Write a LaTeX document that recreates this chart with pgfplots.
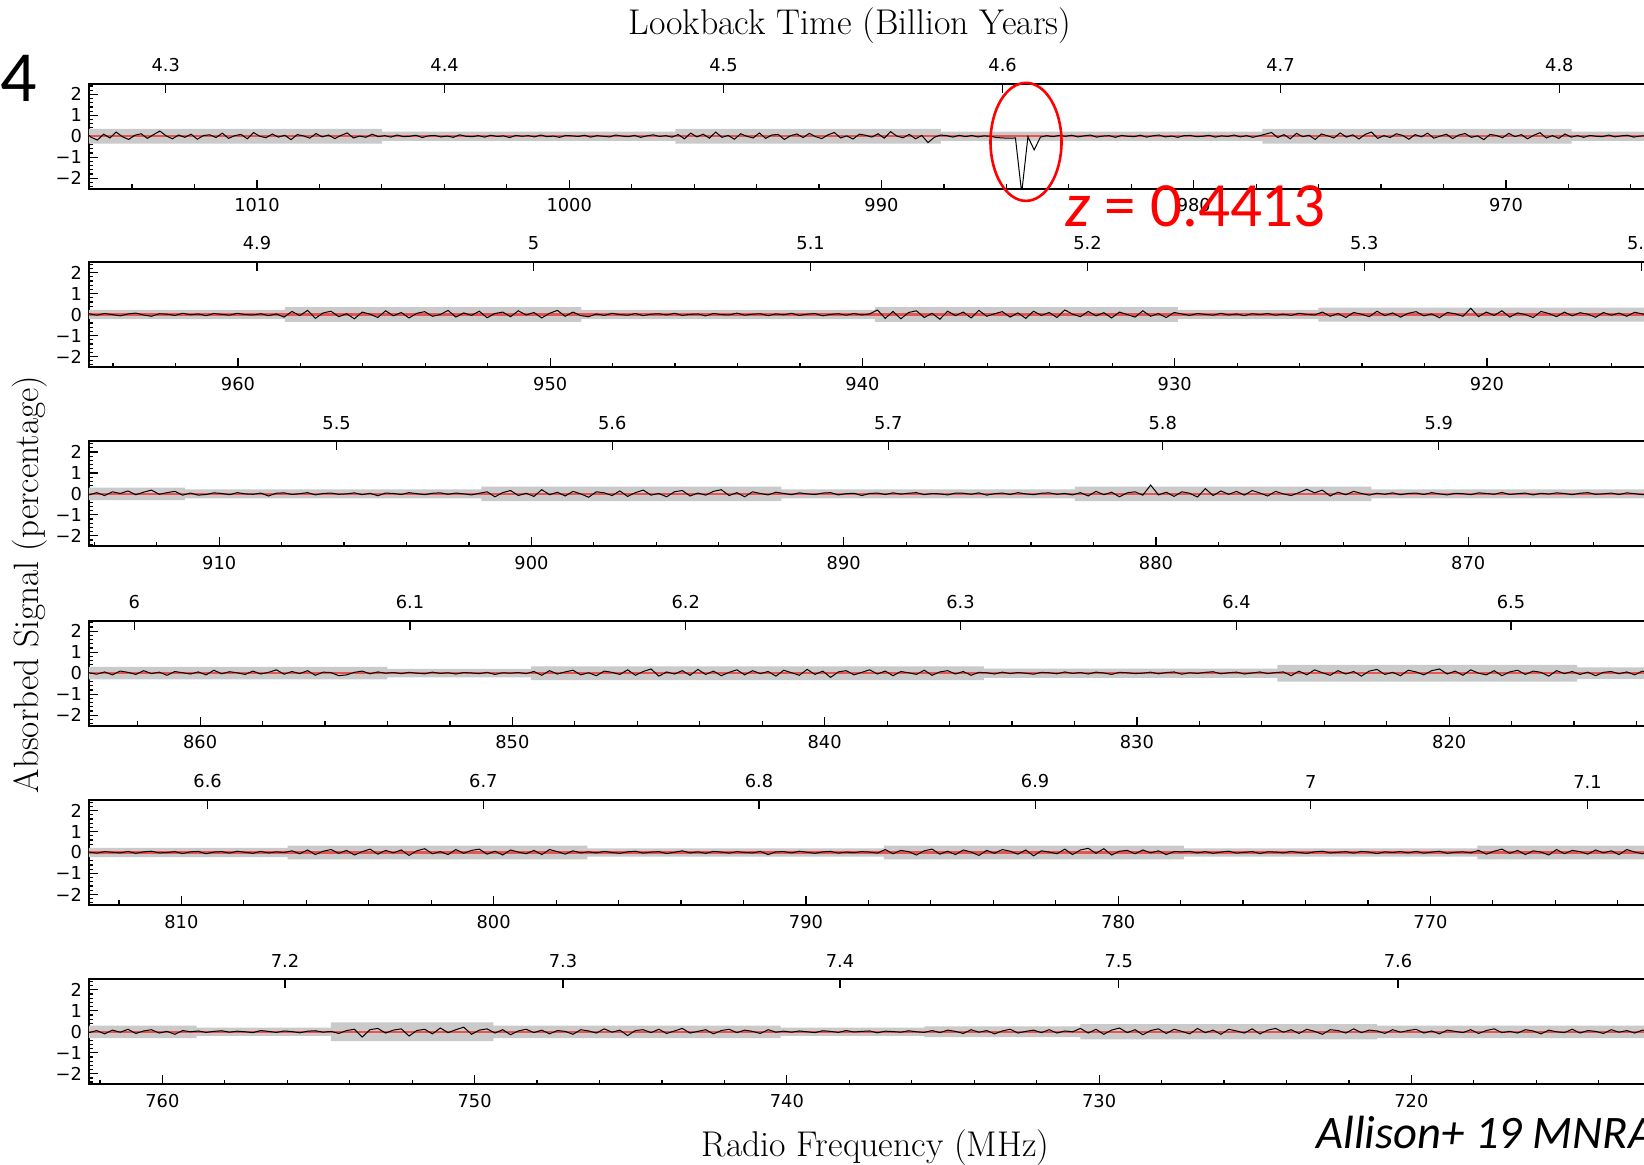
\documentclass[border=0pt]{standalone}
\usepackage{pgfplots}
\pgfplotsset{compat=1.18}
\usepackage{pgfplotstable}
\usepackage{fontspec}
\newfontfamily\dejavu{DejaVu Sans}
\newfontfamily\carlito{Carlito}
\definecolor{bandgray}{RGB}{202,202,202}
\definecolor{zerored}{RGB}{236,80,80}

% Panel 1: 1015.51 MHz downward, 0.2 MHz per channel
\pgfplotstableread[header=false]{
0.22
-0.05
-0.18
0.1
-0.08
0.2
-0.02
-0.15
0.05
0.12
-0.1
0.08
0.25
0.02
-0.12
0.06
-0.05
0.1
-0.14
0.04
0.07
-0.06
0.15
-0.1
0.03
0.09
-0.12
0.18
0.0
-0.07
0.11
-0.04
0.05
-0.16
0.08
0.02
-0.09
0.13
-0.03
0.06
-0.11
0.04
0.16
-0.08
0.01
-0.05
0.1
-0.02
0.03
-0.04
0.06
-0.02
0.0
0.05
-0.06
0.02
0.04
-0.03
0.01
-0.05
0.07
0.0
-0.02
0.03
-0.04
0.05
-0.01
0.02
-0.06
0.04
0.0
0.03
-0.03
0.06
-0.02
0.01
-0.05
0.04
0.02
-0.01
0.05
-0.04
0.03
0.0
-0.03
0.06
0.01
-0.02
0.04
-0.05
0.02
0.07
-0.01
0.03
-0.04
0.08
-0.12
0.15
-0.03
0.1
-0.09
0.2
-0.05
0.04
-0.14
0.12
0.0
-0.08
0.16
-0.1
0.06
0.09
-0.15
0.03
0.11
-0.06
0.14
-0.02
-0.11
0.07
0.18
-0.08
0.02
-0.13
0.1
0.05
-0.04
0.12
-0.09
0.22
0.01
-0.07
0.09
-0.12
0.04
-0.3
-0.05
0.06
0.03
-0.04
0.05
-0.02
0.04
-0.03
0.02
0.0
-0.06
-0.08
-0.09
-0.08
-2.7
-0.02
-0.65
-0.04
0.03
-0.02
0.04
0.0
0.05
-0.03
0.02
0.06
-0.04
0.01
0.03
-0.05
0.04
0.0
-0.02
0.05
-0.04
0.02
0.06
-0.03
0.01
-0.05
0.03
0.04
-0.02
0.0
0.05
-0.04
0.02
-0.01
0.06
-0.03
0.03
-0.05
0.02
0.1
0.18
-0.06
0.08
-0.12
0.14
-0.02
0.05
-0.15
0.11
0.02
-0.08
0.16
-0.04
0.07
-0.13
0.09
0.2
-0.1
0.03
-0.06
0.12
0.04
-0.14
0.08
-0.03
0.15
-0.09
0.01
0.1
-0.11
0.06
0.13
-0.05
0.02
-0.16
0.09
0.04
-0.07
0.14
-0.02
0.08
-0.12
0.05
0.17
-0.08
0.03
-0.1
0.11
-0.04
0.03
-0.05
0.04
0.0
-0.02
0.06
-0.03
0.02
0.05
-0.04
0.01
0.03
-0.02
0.04
0.0
}\tabA

% Panel 2: 964.77 MHz downward, 0.25 MHz per channel
\pgfplotstableread[header=false]{
0.04
-0.03
0.05
0.0
-0.06
0.03
0.07
-0.02
-0.08
0.04
0.02
-0.04
0.06
-0.01
0.03
-0.05
0.05
0.01
-0.03
0.06
0.0
-0.02
0.04
-0.05
0.03
-0.12
0.15
-0.05
0.2
-0.18
0.08
0.16
-0.1
0.04
-0.2
0.12
0.02
-0.14
0.18
-0.06
0.1
-0.16
0.06
0.14
-0.08
0.0
0.2
-0.12
0.08
-0.04
0.16
-0.15
0.05
0.12
-0.1
0.18
-0.02
0.1
-0.16
0.06
0.2
-0.08
0.12
-0.05
-0.1
0.03
-0.04
0.06
0.0
-0.03
0.05
-0.05
0.02
0.04
-0.02
0.06
-0.04
0.01
0.03
-0.06
0.05
0.0
-0.02
0.07
-0.03
0.02
0.04
-0.05
0.03
-0.01
0.06
-0.04
0.02
0.05
-0.06
0.01
0.04
-0.03
0.05
-0.02
0.03
0.22
-0.18
0.15
-0.2
0.1
0.18
-0.14
0.06
-0.22
0.16
-0.05
0.12
-0.16
0.2
-0.08
0.04
0.14
-0.12
0.08
-0.18
0.16
-0.04
0.1
-0.14
0.22
0.02
-0.1
0.15
-0.06
0.09
-0.16
0.12
0.0
-0.12
0.18
-0.08
0.05
-0.14
0.1
0.03
-0.04
0.05
0.01
-0.03
0.06
-0.02
0.03
-0.05
0.04
0.0
0.05
-0.03
0.02
-0.04
0.06
0.01
-0.02
0.12
-0.08
0.05
-0.14
0.1
0.02
-0.1
0.16
-0.05
0.08
-0.12
0.06
0.14
-0.06
0.03
-0.15
0.1
0.04
-0.08
0.3
-0.1
0.12
-0.04
0.18
-0.12
0.08
0.0
-0.14
0.15
0.05
-0.1
0.12
-0.06
0.09
0.02
-0.13
0.1
-0.03
0.07
-0.08
0.11
0.03
-0.06
0.08
-0.02
}\tabB

% Panel 3: 914.17 MHz downward
\pgfplotstableread[header=false]{
-0.05
0.06
-0.08
0.1
0.02
0.14
-0.04
0.08
0.18
-0.02
0.06
0.12
-0.06
0.04
-0.06
-0.03
0.05
0.02
-0.04
0.06
0.0
-0.02
0.04
-0.1
0.03
0.05
-0.03
0.01
0.06
-0.05
0.02
0.04
-0.02
0.0
0.05
-0.04
0.03
-0.09
0.04
0.02
-0.03
0.06
0.01
-0.04
0.03
0.05
-0.02
0.04
0.0
-0.05
0.03
0.1
-0.14
0.06
0.16
-0.08
0.03
-0.12
0.2
-0.04
0.08
-0.1
0.12
0.0
-0.16
0.1
0.05
-0.08
0.14
-0.12
0.06
0.18
-0.06
0.02
-0.14
0.1
0.16
-0.1
0.04
-0.06
0.12
0.2
-0.08
0.06
-0.14
0.1
0.02
-0.05
0.08
0.02
-0.04
0.05
0.0
-0.03
0.04
0.06
-0.05
0.01
0.03
-0.08
0.02
0.04
-0.03
0.05
-0.01
0.03
0.06
-0.04
0.02
0.0
-0.05
0.04
0.03
-0.02
0.05
-0.06
0.01
0.04
-0.03
0.06
0.0
-0.04
0.03
0.05
-0.02
0.02
-0.05
0.06
-0.1
0.12
-0.04
0.08
-0.14
0.05
0.1
-0.06
0.42
-0.05
0.08
-0.12
0.1
0.03
-0.15
0.25
-0.08
0.14
-0.02
0.12
-0.06
0.16
0.04
-0.1
0.12
0.0
-0.08
0.06
0.22
0.05
0.18
-0.1
0.08
-0.04
0.12
0.02
-0.06
0.03
-0.02
0.05
-0.04
0.02
0.04
-0.03
0.06
0.0
-0.05
0.03
0.01
-0.04
0.05
0.02
-0.02
0.07
-0.03
0.01
0.04
-0.05
0.03
-0.01
0.05
0.02
-0.04
0.03
0.06
-0.02
0.0
0.04
-0.03
0.05
0.01
-0.04
0.03
0.02
-0.01
}\tabC

% Panel 4: 863.56 MHz downward
\pgfplotstableread[header=false]{
0.02
-0.05
0.06
-0.08
0.1
0.04
-0.06
0.12
-0.02
0.05
-0.1
0.08
0.02
-0.04
0.06
-0.08
0.14
-0.03
0.07
0.02
-0.06
0.1
-0.04
0.04
0.16
-0.05
0.08
-0.02
0.12
-0.1
0.05
0.03
-0.12
-0.08
0.04
0.1
-0.03
0.06
0.0
0.03
-0.02
0.04
0.0
-0.03
0.05
-0.01
0.02
-0.04
0.03
0.01
-0.02
0.04
-0.06
0.02
0.0
0.03
-0.02
0.08
-0.1
0.12
-0.04
0.06
0.14
-0.08
0.02
-0.12
0.1
0.04
-0.06
0.16
-0.1
0.08
0.2
-0.14
0.06
-0.04
0.12
-0.1
0.18
-0.06
0.1
-0.12
0.04
0.16
-0.08
0.12
-0.02
0.08
-0.14
0.14
0.02
-0.1
0.18
-0.06
0.1
-0.2
0.06
0.12
-0.08
0.04
0.16
-0.04
0.1
-0.12
0.08
0.02
-0.06
0.14
-0.1
0.06
0.12
-0.04
0.08
-0.1
0.04
0.02
-0.04
0.05
-0.02
0.03
0.0
-0.05
0.04
0.02
-0.03
0.06
-0.01
0.03
-0.04
0.05
0.01
-0.06
0.04
0.02
-0.02
0.0
0.05
-0.03
0.03
0.06
-0.05
0.02
-0.01
0.04
0.07
-0.03
0.02
0.05
-0.04
0.01
0.06
-0.02
0.03
0.06
-0.12
0.1
-0.08
0.16
0.02
-0.1
0.12
-0.04
0.08
-0.14
0.1
0.18
-0.06
0.04
-0.12
0.14
0.06
-0.08
0.12
0.2
-0.04
0.1
-0.1
0.16
0.0
-0.08
0.12
-0.12
0.06
0.14
-0.06
0.1
0.04
-0.14
0.12
-0.02
0.08
-0.06
0.05
-0.12
0.04
0.08
-0.03
0.06
-0.08
0.1
0.02
-0.05
0.04
}\tabD

% Panel 5: 812.96 MHz downward
\pgfplotstableread[header=false]{
0.02
-0.03
0.04
0.01
-0.02
0.05
-0.04
0.03
0.06
-0.02
0.0
0.04
-0.05
0.03
0.05
-0.06
0.02
0.04
-0.03
0.06
0.01
-0.04
0.05
-0.02
0.03
0.0
0.08
-0.06
0.12
-0.1
0.06
0.14
-0.04
0.1
-0.12
0.04
0.16
-0.08
0.1
-0.02
0.12
-0.14
0.08
0.18
-0.06
0.04
-0.1
0.14
-0.04
0.1
0.16
-0.08
0.06
-0.12
0.12
0.02
-0.06
0.1
-0.1
0.14
0.04
-0.08
0.08
-0.02
0.03
-0.02
0.05
0.0
-0.04
0.03
0.06
-0.03
0.02
0.04
-0.05
0.01
0.08
-0.02
0.03
-0.04
0.05
0.02
-0.03
0.04
0.0
-0.02
0.05
-0.1
0.03
0.04
-0.02
0.06
0.01
-0.04
0.03
0.05
-0.03
0.02
-0.01
0.04
0.02
-0.03
0.14
-0.06
0.1
0.04
-0.12
0.08
0.16
-0.08
0.06
-0.1
0.12
0.02
-0.14
0.1
-0.04
0.14
0.06
-0.08
0.12
-0.16
0.08
0.02
-0.06
0.16
-0.1
0.12
0.2
-0.04
0.18
-0.12
0.06
0.1
-0.06
0.12
-0.02
0.08
-0.1
0.04
0.03
0.05
-0.02
0.04
-0.04
0.02
0.06
-0.03
0.01
0.04
-0.05
0.03
0.02
-0.02
0.05
0.0
-0.04
0.03
0.06
-0.02
0.01
0.04
-0.03
0.05
0.02
-0.05
0.03
0.0
0.04
-0.02
0.05
-0.03
0.02
0.06
-0.04
0.01
0.03
-0.02
0.1
-0.08
0.06
0.16
-0.04
0.1
-0.1
0.08
0.02
-0.12
0.14
-0.06
0.1
0.04
-0.08
0.12
-0.02
0.08
-0.1
0.14
0.02
-0.06
0.1
-0.04
0.06
}\tabE

% Panel 6: 762.35 MHz downward
\pgfplotstableread[header=false]{
-0.04
0.06
-0.1
0.08
-0.02
0.12
-0.08
0.04
0.1
-0.06
0.02
-0.12
0.06
0.0
0.04
-0.03
0.02
0.05
-0.02
0.03
0.0
-0.04
0.06
0.02
-0.03
0.04
0.01
-0.05
0.03
0.05
-0.02
0.02
-0.08
0.06
0.12
-0.25
0.1
0.16
-0.06
0.08
0.14
-0.2
0.06
0.12
-0.1
0.18
-0.04
0.1
0.22
-0.12
0.08
0.14
-0.06
0.1
-0.14
0.04
0.12
-0.04
0.08
-0.1
0.06
0.02
-0.12
0.1
0.04
-0.06
0.14
-0.02
0.08
-0.18
0.06
0.1
-0.04
0.12
-0.08
0.04
0.16
-0.06
0.02
0.1
-0.1
0.06
0.12
-0.04
0.08
0.02
-0.08
0.1
-0.02
0.03
-0.02
0.04
0.0
-0.04
0.05
0.02
-0.03
0.06
-0.01
0.02
0.04
-0.05
0.03
0.01
-0.02
0.05
0.0
-0.03
0.06
-0.04
0.08
0.02
-0.08
0.1
-0.02
0.06
-0.1
0.04
0.12
-0.06
0.02
0.08
-0.04
0.1
-0.06
0.04
0.0
0.16
-0.06
0.12
-0.12
0.08
0.18
-0.04
0.1
-0.14
0.06
0.14
-0.08
0.12
0.02
-0.1
0.16
-0.04
0.08
-0.12
0.12
0.04
-0.06
0.14
-0.1
0.08
0.16
-0.02
0.1
-0.08
0.12
0.02
-0.12
0.1
0.06
-0.06
0.14
-0.04
0.08
0.04
-0.08
0.1
-0.02
0.06
0.12
-0.06
0.04
-0.1
0.08
0.02
-0.04
0.1
-0.08
0.06
0.14
-0.04
0.02
-0.06
0.1
0.04
-0.1
0.08
0.0
-0.04
0.12
-0.06
0.06
0.02
-0.08
0.1
-0.02
0.06
-0.06
0.08
0.02
-0.04
0.06
}\tabF

\pgfplotsset{
  panel/.style={
    scale only axis, width=790pt, height=52.4pt, anchor=south west,
    x dir=reverse, ymin=-2.5, ymax=2.5,
    ytick={-2,-1,0,1,2}, yticklabels={−2,−1,0,1,2},
    minor ytick={-2.4,-2.2,...,2.4},
    xtick distance=10, scaled x ticks=false,
    minor xtick={700,702,...,1020},
    xtick pos=bottom, ytick pos=left,
    tick align=inside,
    major tick length=4.5pt, minor tick length=2.2pt,
    axis line style={line width=1pt},
    every tick/.style={black, line width=0.6pt},
    tick label style={font=\dejavu\fontsize{8.9}{10}\selectfont},
    xticklabel style={yshift=-1.5pt},
    /pgf/number format/assume math mode=true,
    /pgf/number format/1000 sep={},
    no markers,
  },
  toppanel/.style={
    scale only axis, width=790pt, height=52.4pt, anchor=south west,
    x dir=reverse, ymin=-2.5, ymax=2.5,
    axis x line*=top, axis y line=none,
    tick align=inside, major tick length=4.5pt,
    minor x tick num=0,
    axis line style={line width=1pt},
    every tick/.style={black, line width=0.6pt},
    tick label style={font=\dejavu\fontsize{8.9}{10}\selectfont},
    xticklabel style={yshift=2.5pt},
  },
}

% #1 y of bottom, #2 xmin (right), #3 xmax (left), #4 table, #5 first channel, #6 step,
% #7 upper noise band, #8 lower noise band, #9 lookback-time ticks
\newcommand{\panel}[9]{%
\begin{axis}[panel, at={(44.5pt,#1)}, xmin=#2, xmax=#3]
  \addplot[const plot, fill=bandgray, draw=none] coordinates {#7} \closedcycle;
  \addplot[const plot, fill=bandgray, draw=none] coordinates {#8} \closedcycle;
  \addplot[zerored, line width=1.1pt] coordinates {(#2,0) (#3,0)};
  \addplot[black, line width=0.5pt]
    table[x expr={#5-#6*\coordindex}, y index=0] {#4};
\end{axis}
\begin{axis}[toppanel, at={(44.5pt,#1)}, xmin=#2, xmax=#3, #9]
\end{axis}
}

\begin{document}
\begin{tikzpicture}
\useasboundingbox (0,0) rectangle (822pt,582.5pt);
\clip (0,0) rectangle (822pt,582.5pt);

\panel{488.15pt}{964.78}{1015.38}{\tabA}{1015.51}{0.2}
  {(1016,0.35)(1006.0,0.22)(996.6,0.35)(988.1,0.22)(977.8,0.35)(967.9,0.22)(964,0.22)}
  {(1016,-0.35)(1006.0,-0.22)(996.6,-0.35)(988.1,-0.22)(977.8,-0.35)(967.9,-0.22)(964,-0.22)}
  {xtick={1012.92,1003.99,995.06,986.12,977.22,968.29}, xticklabels={4.3,4.4,4.5,4.6,4.7,4.8}}

\panel{399.0pt}{914.17}{964.77}{\tabB}{964.77}{0.25}
  {(965,0.22)(958.5,0.35)(949.0,0.22)(939.6,0.35)(929.9,0.22)(925.4,0.33)(914,0.33)}
  {(965,-0.22)(958.5,-0.35)(949.0,-0.22)(939.6,-0.35)(929.9,-0.22)(925.4,-0.33)(914,-0.33)}
  {xtick={959.39,950.53,941.66,932.79,923.93,915.06}, xticklabels={4.9,5,5.1,5.2,5.3,5.4}}

\panel{309.35pt}{863.57}{914.17}{\tabC}{914.17}{0.25}
  {(914.4,0.3)(911.1,0.22)(901.6,0.35)(892.0,0.22)(882.6,0.35)(873.1,0.22)(863,0.22)}
  {(914.4,-0.3)(911.1,-0.22)(901.6,-0.35)(892.0,-0.22)(882.6,-0.35)(873.1,-0.22)(863,-0.22)}
  {xtick={906.24,897.41,888.57,879.78,870.94}, xticklabels={5.5,5.6,5.7,5.8,5.9}}

\panel{219.7pt}{812.96}{863.56}{\tabD}{863.56}{0.25}
  {(863.8,0.3)(854.0,0.2)(849.4,0.33)(834.9,0.22)(825.5,0.4)(815.9,0.28)(812,0.28)}
  {(863.8,-0.3)(854.0,-0.2)(849.4,-0.33)(834.9,-0.22)(825.5,-0.4)(815.9,-0.28)(812,-0.28)}
  {xtick={862.11,853.28,844.45,835.65,826.81,818.02}, xticklabels={6,6.1,6.2,6.3,6.4,6.5}}

\panel{130.05pt}{762.36}{812.96}{\tabE}{812.96}{0.25}
  {(813.2,0.22)(806.6,0.33)(797.0,0.2)(787.5,0.33)(777.9,0.2)(768.5,0.33)(762,0.33)}
  {(813.2,-0.22)(806.6,-0.33)(797.0,-0.2)(787.5,-0.33)(777.9,-0.2)(768.5,-0.33)(762,-0.33)}
  {xtick={809.16,800.33,791.5,782.66,773.83,764.97}, xticklabels={6.6,6.7,6.8,6.9,7,7.1}}

\panel{40.4pt}{711.75}{762.35}{\tabF}{762.35}{0.25}
  {(762.6,0.3)(758.9,0.2)(754.6,0.45)(749.4,0.3)(740.2,0.2)(735.6,0.26)(730.6,0.36)(721.1,0.3)(711,0.3)}
  {(762.6,-0.3)(758.9,-0.2)(754.6,-0.45)(749.4,-0.3)(740.2,-0.2)(735.6,-0.26)(730.6,-0.36)(721.1,-0.3)(711,-0.3)}
  {xtick={756.07,747.17,738.30,729.37,720.43}, xticklabels={7.2,7.3,7.4,7.5,7.6}}

% titles
\node[anchor=base, font=\fontsize{17.9}{20}\selectfont] at (424.9pt,565.05pt) {Lookback Time (Billion Years)};
\node[anchor=base, font=\fontsize{17.9}{20}\selectfont] at (437.75pt,4.15pt) {Radio Frequency (MHz)};
\node[anchor=base, rotate=90, font=\fontsize{17.6}{20}\selectfont] at (19.3pt,290.25pt) {Absorbed Signal (percentage)};

% annotations
\node[anchor=base west, inner sep=0pt, font=\carlito\fontsize{36}{40}\selectfont] at (0pt,531.5pt) {4};
\draw[red, line width=1.3pt] (513pt,511.55pt) ellipse [x radius=17.75pt, y radius=29.5pt];
\node[anchor=base west, inner sep=0pt, text=red, font=\carlito\fontsize{31.5}{34}\selectfont] at (532.5pt,469.15pt) {\textit{z} = 0.4413};
\node[anchor=base west, inner sep=0pt, font=\carlito\itshape\fontsize{23.3}{26}\selectfont] at (658pt,8.35pt) {Allison+ 19 MNRAS};
\end{tikzpicture}
\end{document}
